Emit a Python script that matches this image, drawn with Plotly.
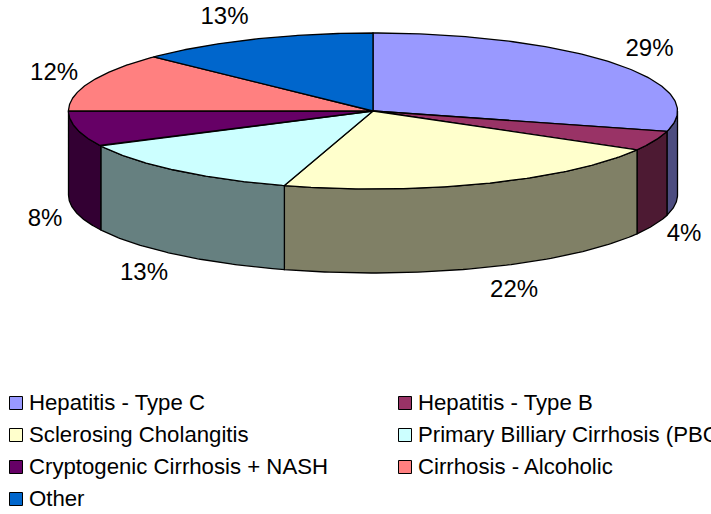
import numpy as np
import plotly.graph_objects as go

categories = ["Hepatitis - Type C", "Hepatitis - Type B", "Sclerosing Cholangitis",
              "Primary Billiary Cirrhosis (PBC)", "Cryptogenic Cirrhosis + NASH",
              "Cirrhosis - Alcoholic", "Other"]
values = [29.2, 4.1, 21.4, 12.9, 7.4, 12.2, 12.8]
value_labels = ["29%", "4%", "22%", "13%", "8%", "12%", "13%"]
top_colors = ["#9999FF", "#993366", "#FFFFCC", "#CCFFFF", "#660066", "#FF8080", "#0066CC"]
side_colors = ["#4D4D80", "#4D1A33", "#808066", "#668080", "#330033", "#804040", "#003366"]

W, H = 711, 514
CX, CY, RX, RY, DEPTH = 373, 111, 304.5, 78, 84
FONT = "Liberation Sans, Arial, sans-serif"


def ell(t):
    return CX + RX * np.sin(t), CY - RY * np.cos(t)


total = sum(values)
edges = np.radians(np.cumsum([0] + values) / total * 360)
fig = go.Figure()
line = dict(color="black", width=1.3)

# walls of the front half, drawn first
for i in range(len(values)):
    a, b = max(edges[i], np.pi / 2), min(edges[i + 1], 3 * np.pi / 2)
    if b <= a:
        continue
    t = np.linspace(a, b, 80)
    x, y = ell(t)
    px = np.concatenate([x, x[::-1], x[:1]])
    py = np.concatenate([y, y[::-1] + DEPTH, y[:1]])
    fig.add_trace(go.Scatter(x=px, y=py, mode="lines", fill="toself",
                             fillcolor=side_colors[i], line=line, hoverinfo="skip"))

# top faces
for i in range(len(values)):
    t = np.linspace(edges[i], edges[i + 1], 120)
    x, y = ell(t)
    px = np.concatenate([[CX], x, [CX]])
    py = np.concatenate([[CY], y, [CY]])
    fig.add_trace(go.Scatter(x=px, y=py, mode="lines", fill="toself",
                             fillcolor=top_colors[i], line=line,
                             name=categories[i], hoverinfo="name"))

# value labels placed radially from each slice's mid angle
mids = (edges[:-1] + edges[1:]) / 2
lx = np.clip(CX + 318 * np.sin(mids) + 24 * np.sign(np.sin(mids)), 45, 684)
ly = CY + 1 - 102 * np.cos(mids) + DEPTH * (np.cos(mids) < 0)
fig.add_trace(go.Scatter(x=lx, y=ly, mode="text", text=value_labels,
                         textposition="middle center",
                         textfont=dict(family=FONT, size=24, color="black"),
                         cliponaxis=False, hoverinfo="skip"))

# legend in two columns, filled row by row
col_x = [16, 405]
row_y = [403, 435, 467, 499]
sx = [col_x[i % 2] for i in range(len(categories))]
sy = [row_y[i // 2] for i in range(len(categories))]
fig.add_trace(go.Scatter(x=sx, y=sy, mode="markers",
                         marker=dict(symbol="square", size=13, color=top_colors,
                                     line=dict(color="black", width=1)),
                         hoverinfo="skip"))
fig.add_trace(go.Scatter(x=[v + 13 for v in sx], y=[v + 1 for v in sy], mode="text", text=categories,
                         textposition="middle right",
                         textfont=dict(family=FONT, size=22.2, color="black"),
                         cliponaxis=False, hoverinfo="skip"))

fig.update_layout(width=W, height=H, autosize=False, showlegend=False,
                  margin=dict(l=0, r=0, t=0, b=0),
                  paper_bgcolor="white", plot_bgcolor="white",
                  xaxis=dict(range=[0, W], visible=False, fixedrange=True),
                  yaxis=dict(range=[H, 0], visible=False, fixedrange=True))
fig.write_html("out.html", config={"displayModeBar": False},
               post_script="document.body.style.margin='0';document.body.style.overflow='hidden';")
